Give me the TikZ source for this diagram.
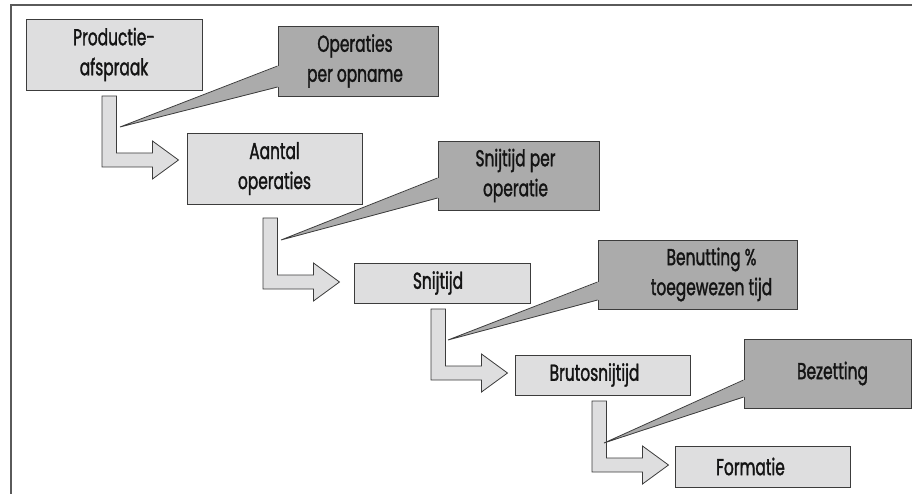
\documentclass[tikz,border=0pt]{standalone}
\usepackage{fontspec}
\setmainfont[FakeStretch=0.67, FakeBold=1.4]{Poppins}
\definecolor{paleFill}{HTML}{DEDEDF}
\definecolor{darkFill}{HTML}{ABABAB}
\definecolor{edgeCol}{HTML}{3C3C3C}
\definecolor{inkCol}{HTML}{141414}
\definecolor{frameCol}{HTML}{5A5A5A}
\begin{document}
\begin{tikzpicture}[x=1pt,y=-1pt,
  boxbase/.style={draw=edgeCol, line width=0.9pt, inner sep=0pt},
  palebox/.style={boxbase, fill=paleFill},
  darkbox/.style={boxbase, fill=darkFill},
  caption/.style={inner sep=0pt, align=center, text=inkCol,
    font=\fontsize{23}{30}\selectfont},
  arrowshape/.style={draw=edgeCol, fill=paleFill, line width=0.8pt, line join=miter},
  wedgeline/.style={draw=edgeCol, line width=0.8pt},
  bentarrow/.pic={
    \path[arrowshape] (0,0) -- (14.5,0) -- (14.5,57) -- (50.5,57) -- (50.5,45)
      -- (76.5,64) -- (50.5,83) -- (50.5,71) -- (0,71) -- cycle;
  }]
\useasboundingbox (0,0) rectangle (912,494);

% frame (top and left edges)
\draw[frameCol, line width=1.6pt] (11,494) -- (11,5) -- (912,5);

% bent arrows between successive steps
\coordinate (a1) at (102,96);
\coordinate (a2) at (263,218);
\coordinate (a3) at (431,309);
\coordinate (a4) at (592,401);
\pic at (a1) {bentarrow};
\pic at (a2) {bentarrow};
\pic at (a3) {bentarrow};
\pic at (a4) {bentarrow};

% main steps
\node[palebox, minimum width=176pt, minimum height=71pt] (prod) at (114,54.5) {};
\node[palebox, minimum width=175pt, minimum height=71pt] (aantal) at (274.5,168.5) {};
\node[palebox, minimum width=176pt, minimum height=40pt] (snij) at (442,283) {};
\node[palebox, minimum width=175pt, minimum height=40pt] (bruto) at (602.5,375) {};
\node[palebox, minimum width=175pt, minimum height=41pt] (form) at (762.5,466.5) {};

% callout boxes
\node[darkbox, minimum width=160pt, minimum height=70pt] (opn) at (358,61) {};
\node[darkbox, minimum width=161pt, minimum height=69pt] (spo) at (518.5,175.5) {};
\node[darkbox, minimum width=199pt, minimum height=69pt] (ben) at (697.5,274.5) {};
\node[darkbox, minimum width=167pt, minimum height=69pt] (bez) at (827.5,373.5) {};

% callout pointers
\coordinate (t1) at (120,127);
\coordinate (t2) at (281,240);
\coordinate (t3) at (448,340);
\coordinate (t4) at (604,443);

\foreach \cbox/\tip/\ya/\yb in {opn/t1/66/87, spo/t2/178/198, ben/t3/282/300, bez/t4/380/397}{
  \fill[darkFill] (\tip) -- ([xshift=1.2pt]\cbox.west |- 0,\ya) -- ([xshift=1.2pt]\cbox.west |- 0,\yb) -- cycle;
  \draw[wedgeline] (\cbox.west |- 0,\ya) -- (\tip) -- (\cbox.west |- 0,\yb);
}

% labels
\node[caption] (prod-t) at (prod) {Productie-\\afspraak};
\node[caption] (aantal-t) at (aantal) {Aantal\\operaties};
\node[caption] (snij-t) at ([xshift=-4pt]snij.center) {Snijtijd};
\node[caption] (bruto-t) at ([xshift=-8pt]bruto.center) {Brutosnijtijd};
\node[caption] (form-t) at ([xshift=-12pt]form.center) {Formatie};
\node[caption] (opn-t) at ([xshift=-3pt]opn.center) {Operaties\\per opname};
\node[caption] (spo-t) at ([xshift=-3pt]spo.center) {Snijtijd per\\operatie};
\node[caption] (ben-t) at ([xshift=14pt]ben.center) {Benutting \%\\toegewezen tijd};
\node[caption] (bez-t) at ([xshift=5pt]bez.center) {Bezetting};
\end{tikzpicture}
\end{document}
